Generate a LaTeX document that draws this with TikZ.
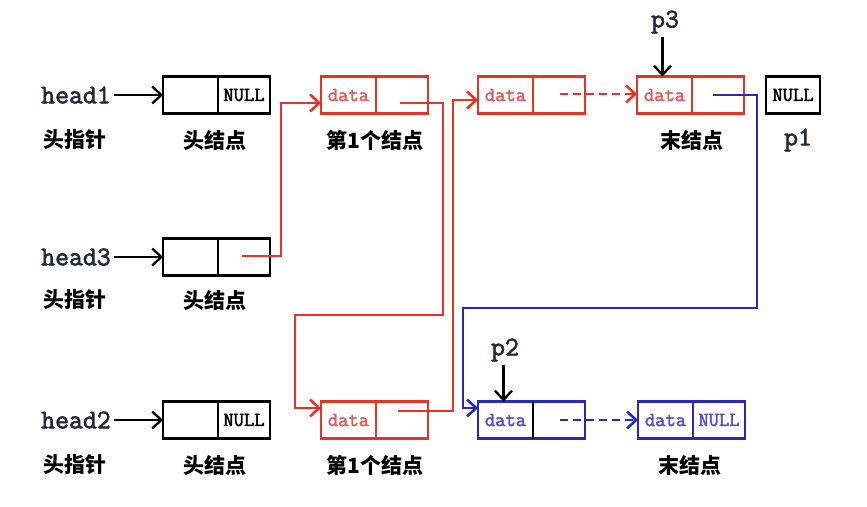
\documentclass[tikz,border=0pt]{standalone}
\usepackage{fontspec}
\newfontfamily\cjk{Noto Sans CJK SC}
\newfontfamily\monob{Latin Modern Mono}[FakeBold=2.2]
\usetikzlibrary{arrows.meta}
\definecolor{rline}{RGB}{228,52,40}
\definecolor{rtext}{RGB}{222,92,90}
\definecolor{bline}{RGB}{40,40,185}
\definecolor{btext}{RGB}{80,80,190}
\definecolor{htext}{RGB}{35,42,55}
\tikzset{
  cell/.style={draw, line width=2.4pt, minimum height=37pt, inner sep=0pt, outer sep=0pt},
  lcell/.style={cell, minimum width=55pt, anchor=west},
  rcell/.style={cell, minimum width=52pt, anchor=west},
  redbox/.style={draw=rline},
  bluebox/.style={draw=bline},
  datatxt/.style={font=\monob\fontsize{20}{20}\selectfont},
  nulltxt/.style={font=\monob\fontsize{20}{20}\selectfont},
  headlbl/.style={font=\monob\fontsize{27}{27}\selectfont, text=htext},
  cnlbl/.style={font=\cjk\bfseries\fontsize{21}{21}\selectfont},
  tip/.style={-{Straight Barb[length=9pt,width=17pt]}},
  blk/.style={line width=2.4pt, tip},
  rl/.style={line width=2.6pt, draw=rline, tip},
  bl/.style={line width=2.6pt, draw=bline, tip},
  dsh/.style={dash pattern=on 8pt off 5pt}
}
\begin{document}
\begin{tikzpicture}[x=1pt,y=-1pt]
\useasboundingbox[fill=white] (0,0) rectangle (867,506);
% ---- row 1 ----
\node[lcell] (h1L) at (163,95) {};
\node[rcell, nulltxt] (h1R) at (h1L.east) {NULL};
\node[lcell, redbox, datatxt, text=rtext] (r1L) at (321,95) {data};
\node[rcell, redbox] (r1R) at (r1L.east) {};
\node[lcell, redbox, datatxt, text=rtext] (r2L) at (478,95) {data};
\node[rcell, redbox] (r2R) at (r2L.east) {};
\node[lcell, redbox, datatxt, text=rtext] (rtL) at (637,95) {data};
\node[rcell, redbox] (rtR) at (rtL.east) {};
\node[cell, minimum width=54pt, nulltxt] (p1n) at (793,95) {NULL};
% ---- row 2 ----
\node[lcell] (h3L) at (163,257) {};
\node[rcell] (h3R) at (h3L.east) {};
% ---- row 3 ----
\node[lcell] (h2L) at (163,420) {};
\node[rcell, nulltxt] (h2R) at (h2L.east) {NULL};
\node[lcell, redbox, datatxt, text=rtext] (r3L) at (321,420) {data};
\node[rcell, redbox] (r3R) at (r3L.east) {};
\node[lcell, bluebox, datatxt, text=btext] (b1L) at (478,420) {data};
\node[rcell, bluebox] (b1R) at (b1L.east) {};
\draw[line width=2.4pt] (b1R.north west) -- (b1R.south west);
\node[lcell, bluebox, datatxt, text=btext] (btL) at (638,420) {data};
\node[rcell, bluebox, nulltxt, text=btext] (btR) at (btL.east) {NULL};
% ---- labels ----
\node[headlbl] (hd1) at (76,95) {head1};
\node[headlbl] (hd3) at (76,257) {head3};
\node[headlbl] (hd2) at (76,420) {head2};
\node[cnlbl] (c1) at (75,140) {头指针};
\node[cnlbl] (c2) at (215,140) {头结点};
\node[cnlbl] (c3) at (375,140) {第1个结点};
\node[cnlbl] (c4) at (692,140) {末结点};
\node[headlbl] (p1) at (798,140) {p1};
\node[cnlbl] (c5) at (75,300) {头指针};
\node[cnlbl] (c6) at (215,300) {头结点};
\node[cnlbl] (c7) at (75,465) {头指针};
\node[cnlbl] (c8) at (215,465) {头结点};
\node[cnlbl] (c9) at (375,465) {第1个结点};
\node[cnlbl] (c10) at (690,465) {末结点};
\node[headlbl] (p3) at (665,22) {p3};
\node[headlbl] (p2) at (505,350) {p2};
% ---- black arrows ----
\draw[blk] (hd1.east) -- (h1L.west);
\draw[blk] (hd3.east) -- (h3L.west);
\draw[blk] (hd2.east) -- (h2L.west);
\draw[blk] (p3.south -| rtL.north) ++(-2,0) coordinate (p3s) -- (rtL.north -| p3s);
\draw[blk] (p2.south -| b1L.north) ++(-2,0) coordinate (p2s) -- (b1L.north -| p2s);
% ---- red connectors ----
\coordinate (s1) at (242,256);
\draw[rl] (s1) -- (281,256) -- (281,103) -- (r1L.west |- 0,103);
\coordinate (s2) at (400,103);
\draw[rl] (s2) -- (443,103) -- (443,315) -- (295,315) -- (295,408) -- (r3L.west |- 0,408);
\coordinate (s3) at (398,411);
\draw[rl] (s3) -- (453,411) -- (453,100) -- (r2L.west |- 0,100);
\coordinate (s4) at (560,94);
\draw[rl, dsh] (s4) -- (rtL.west |- s4);
% ---- blue connectors ----
\coordinate (s5) at (713,95);
\draw[bl] (s5) -- (757,95) -- (757,308) -- (463,308) -- (463,408) -- (b1L.west |- 0,408);
\coordinate (s6) at (560,420);
\draw[bl, dsh] (s6) -- (btL.west |- s6);
\end{tikzpicture}
\end{document}
